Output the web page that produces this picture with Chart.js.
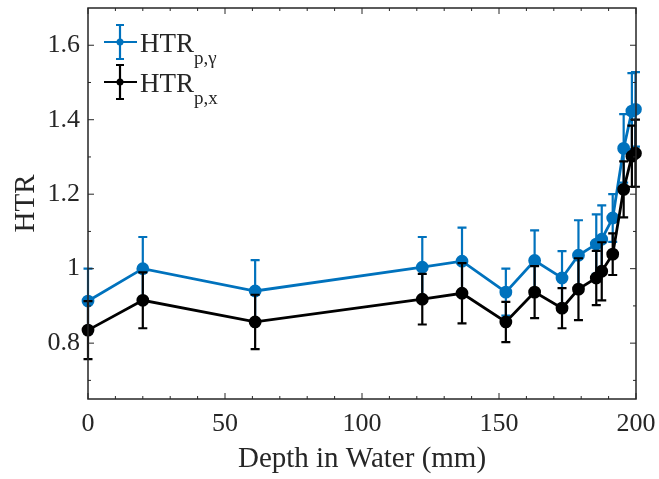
<!DOCTYPE html>
<html>
<head>
<meta charset="utf-8">
<script src="https://cdn.jsdelivr.net/npm/chart.js@4.4.1/dist/chart.umd.min.js"></script>
<style>
  body { margin: 0; background: #fff; }
  #wrap { width: 659px; height: 479px; }
</style>
</head>
<body>
<div id="wrap"><canvas id="htrChart" width="659" height="479"></canvas></div>
<script>
// depth positions (mm) and the two HTR series with their error half-widths
const depth = [0, 20, 61, 122, 136.5, 152.5, 163, 173, 179, 185.5, 187.5, 191.5, 195.5, 198.5, 199.8];
const htrGamma = [0.913, 1.0, 0.94, 1.004, 1.02, 0.937, 1.022, 0.975, 1.036, 1.066, 1.079, 1.136, 1.323, 1.423, 1.428];
const htrGammaErr = [0.087, 0.085, 0.083, 0.081, 0.09, 0.063, 0.081, 0.072, 0.094, 0.08, 0.091, 0.064, 0.092, 0.102, 0.1];
const htrX = [0.835, 0.915, 0.857, 0.918, 0.934, 0.857, 0.937, 0.894, 0.945, 0.975, 0.993, 1.039, 1.213, 1.302, 1.31];
const htrXErr = [0.078, 0.075, 0.073, 0.068, 0.081, 0.054, 0.07, 0.054, 0.083, 0.073, 0.078, 0.056, 0.075, 0.082, 0.09];

const xTicks = [0, 50, 100, 150, 200];
const yTicks = [0.8, 1.0, 1.2, 1.4, 1.6];
const legendLabels = [['HTR', 'p,γ'], ['HTR', 'p,x']];

const BLUE = '#0072BD';
const INK = '#262626';
const SERIF = '"Liberation Serif", "Times New Roman", serif';

function toPoints(xs, ys) {
    return xs.map((x, i) => ({ x: x, y: ys[i] }));
}

// vertical error bars, drawn just under each dataset's own line
const errorBars = {
    id: 'errorBars',
    beforeDatasetDraw(chart, args) {
        const ds = chart.data.datasets[args.index];
        const xs = chart.scales.x, ys = chart.scales.y;
        const ctx = chart.ctx;
        ctx.save();
        ctx.strokeStyle = ds.borderColor;
        ctx.lineWidth = 2.2;
        ds.data.forEach((p, i) => {
            const px = xs.getPixelForValue(p.x);
            const top = ys.getPixelForValue(p.y + ds.errors[i]);
            const bot = ys.getPixelForValue(p.y - ds.errors[i]);
            ctx.beginPath();
            ctx.moveTo(px, top); ctx.lineTo(px, bot);
            ctx.moveTo(px - 4.5, top); ctx.lineTo(px + 4.5, top);
            ctx.moveTo(px - 4.5, bot); ctx.lineTo(px + 4.5, bot);
            ctx.stroke();
        });
        ctx.restore();
    }
};

// box around the plot with inward major/minor ticks on all four sides
const axesBox = {
    id: 'axesBox',
    afterDatasetsDraw(chart) {
        const { ctx, chartArea: a } = chart;
        const xs = chart.scales.x, ys = chart.scales.y;
        ctx.save();
        ctx.strokeStyle = INK;
        ctx.lineWidth = 1.5;
        ctx.strokeRect(a.left, a.top, a.right - a.left, a.bottom - a.top);
        ctx.lineWidth = 1;
        ctx.beginPath();
        for (let v = 0; v <= 200; v += 10) {
            const len = v % 50 === 0 ? 6 : 3;
            const px = xs.getPixelForValue(v);
            ctx.moveTo(px, a.bottom); ctx.lineTo(px, a.bottom - len);
            ctx.moveTo(px, a.top); ctx.lineTo(px, a.top + len);
        }
        for (let k = 7; k <= 16; k++) {
            const len = k % 2 === 0 ? 6 : 3;
            const py = ys.getPixelForValue(k / 10);
            ctx.moveTo(a.left, py); ctx.lineTo(a.left + len, py);
            ctx.moveTo(a.right, py); ctx.lineTo(a.right - len, py);
        }
        ctx.stroke();
        ctx.restore();
    },
    afterDraw(chart) {
        // legend with subscripted labels
        const ctx = chart.ctx;
        const colors = [BLUE, '#000'];
        const rows = [42, 82];
        ctx.save();
        rows.forEach((cy, i) => {
            ctx.strokeStyle = colors[i];
            ctx.fillStyle = colors[i];
            ctx.lineWidth = 2.2;
            ctx.beginPath();
            ctx.moveTo(104, cy); ctx.lineTo(137, cy);
            ctx.moveTo(120, cy - 17); ctx.lineTo(120, cy + 17);
            ctx.moveTo(116, cy - 17); ctx.lineTo(124, cy - 17);
            ctx.moveTo(116, cy + 17); ctx.lineTo(124, cy + 17);
            ctx.stroke();
            ctx.beginPath();
            ctx.arc(120, cy, 3.5, 0, Math.PI * 2);
            ctx.fill();

            ctx.fillStyle = INK;
            ctx.textBaseline = 'alphabetic';
            ctx.font = '27px ' + SERIF;
            ctx.fillText(legendLabels[i][0], 140, cy + 10);
            const w = ctx.measureText(legendLabels[i][0]).width;
            ctx.font = '19px ' + SERIF;
            ctx.fillText(legendLabels[i][1], 140 + w, cy + 22);
        });
        ctx.restore();
    }
};

const ctx = document.getElementById('htrChart').getContext('2d');
new Chart(ctx, {
    type: 'line',
    data: {
        datasets: [{
            label: 'HTR p,x',
            data: toPoints(depth, htrX),
            errors: htrXErr,
            borderColor: '#000',
            backgroundColor: '#000',
            borderWidth: 2.8,
            pointRadius: 5,
            pointHoverRadius: 5,
            clip: false,
            order: 0
        }, {
            label: 'HTR p,γ',
            data: toPoints(depth, htrGamma),
            errors: htrGammaErr,
            borderColor: BLUE,
            backgroundColor: BLUE,
            borderWidth: 2.8,
            pointRadius: 5,
            pointHoverRadius: 5,
            clip: false,
            order: 1
        }]
    },
    options: {
        responsive: false,
        animation: false,
        devicePixelRatio: 1,
        layout: { padding: { left: 0, top: 8, right: 23, bottom: 0 } },
        plugins: {
            legend: { display: false },
            tooltip: { enabled: false }
        },
        scales: {
            x: {
                type: 'linear',
                min: 0,
                max: 200,
                afterBuildTicks: (scale) => { scale.ticks = xTicks.map(v => ({ value: v })); },
                afterFit: (scale) => { scale.height = 80; scale.paddingLeft = 0; scale.paddingRight = 0; },
                grid: { display: false, drawTicks: false },
                border: { display: false },
                ticks: {
                    padding: 10,
                    color: INK,
                    font: { family: SERIF, size: 26 },
                    maxRotation: 0
                },
                title: {
                    display: true,
                    text: 'Depth in Water (mm)',
                    color: INK,
                    font: { family: SERIF, size: 29 },
                    padding: { top: 0, bottom: 2 }
                }
            },
            y: {
                min: 0.65,
                max: 1.7,
                afterBuildTicks: (scale) => { scale.ticks = yTicks.map(v => ({ value: v })); },
                afterFit: (scale) => { scale.width = 88; scale.paddingTop = 0; scale.paddingBottom = 0; },
                grid: { display: false, drawTicks: false },
                border: { display: false },
                ticks: {
                    padding: 8,
                    color: INK,
                    font: { family: SERIF, size: 26 },
                    callback: (v) => String(Math.round(v * 10) / 10)
                },
                title: {
                    display: true,
                    text: 'HTR',
                    color: INK,
                    font: { family: SERIF, size: 29 },
                    padding: { top: 9, bottom: 0 }
                }
            }
        }
    },
    plugins: [errorBars, axesBox]
});
</script>
</body>
</html>
